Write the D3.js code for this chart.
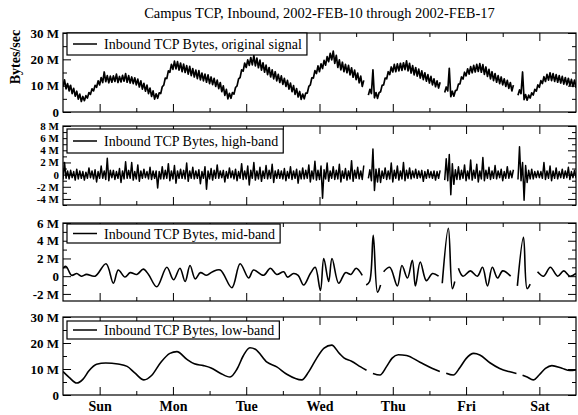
<!DOCTYPE html>
<html>
<head>
<meta charset="utf-8">
<script src="https://cdnjs.cloudflare.com/ajax/libs/d3/7.8.5/d3.min.js"></script>
<style>
body { margin: 0; background: #fff; }
svg { display: block; font-family: "Liberation Serif", "Times New Roman", serif; }
</style>
</head>
<body>
<svg width="578" height="415"></svg>
<script>
var titleText = "Campus TCP, Inbound, 2002-FEB-10 through 2002-FEB-17";
var yLabelText = "Bytes/sec";
var dayNames = ["Sun", "Mon", "Tue", "Wed", "Thu", "Fri", "Sat"];
var legendNames = ["Inbound TCP Bytes, original signal", "Inbound TCP Bytes, high-band",
                   "Inbound TCP Bytes, mid-band", "Inbound TCP Bytes, low-band"];

// tick values (M = million bytes/sec)
var ticks1 = [0, 10, 20, 30], minor1 = [5, 15, 25];
var ticks2 = [-4, -2, 0, 2, 4, 6, 8], minor2 = [-5, -3, -1, 1, 3, 5, 7];
var ticks3 = [-2, 0, 2, 4, 6], minor3 = [-1, 1, 3, 5];
var ticks4 = [0, 10, 20, 30], minor4 = [5, 15, 25];

// noisy signals: hourly min / max, hour 0 = Sun 00:00, null = gap
var originalLo = [9.6, 8.8, 8.0, 7.0, 6.0, 4.9, 4.0, 4.3, 5.3, 6.7,
  8.0, 9.4, 10.3, 11.2, 11.5, 11.1, 11.3, 11.6, 11.2, 11.4,
  11.7, 11.3, 11.0, 10.8, 10.3, 9.5, 8.7, 7.9, 7.0, 5.9,
  4.9, 5.2, 7.0, 10.2, 12.7, 15.1, 16.2, 16.4, 15.9, 15.3,
  15.0, 14.4, 13.8, 13.3, 12.7, 12.2, 11.8, 11.3, 10.8, 10.4,
  9.7, 8.9, 7.7, 6.3, 5.0, 5.2, 6.8, 9.9, 13.1, 15.5,
  16.9, 17.7, 17.9, 17.5, 16.8, 15.9, 15.1, 14.2, 13.3, 12.6,
  11.8, 11.2, 10.5, 9.7, 8.7, 7.7, 6.7, 5.7, 4.8, 5.0,
  7.2, 10.3, 12.9, 14.6, 15.3, 16.5, 17.8, 19.1, 19.8, 18.5,
  16.9, 16.0, 15.3, 14.9, 14.1, 13.2, 12.3, 11.1, 9.7, null,
  6.4, 7.0, 5.4, 5.2, 7.7, 10.3, 12.6, 14.2, 15.2, 15.3,
  15.6, 15.8, 16.1, 15.6, 14.8, 14.1, 13.6, 12.9, 12.3, 11.7,
  11.0, 10.3, 9.6, 9.1, null, 7.4, 8.0, 5.8, 6.0, 8.3,
  10.7, 12.5, 13.7, 14.4, 14.9, 15.2, 15.4, 15.1, 14.3, 13.5,
  12.6, 11.9, 11.3, 10.8, 10.3, 9.7, 9.0, 8.0, null, 6.4,
  7.0, 4.7, 4.5, 5.3, 6.4, 7.9, 9.4, 10.8, 11.6, 12.1,
  11.9, 11.6, 11.3, 11.0, 10.6, 10.3, 10.0, 9.7, 9.4];
var originalHi = [12.2, 10.8, 10.1, 9.0, 7.9, 6.8, 5.9, 6.2, 7.4, 8.8,
  10.1, 11.8, 13.1, 15.2, 13.8, 13.6, 13.7, 14.4, 13.5, 13.9,
  14.6, 13.8, 13.3, 13.0, 12.5, 11.8, 10.9, 10.2, 9.1, 8.0,
  6.9, 7.3, 9.6, 12.9, 15.6, 18.1, 19.3, 19.1, 18.6, 18.2,
  17.6, 17.3, 16.5, 15.9, 15.7, 14.8, 14.4, 14.1, 13.3, 12.8,
  12.1, 11.2, 9.9, 8.6, 7.1, 7.4, 9.3, 12.6, 16.0, 18.6,
  19.8, 20.7, 21.4, 20.5, 19.7, 18.7, 17.8, 16.9, 16.0, 15.3,
  14.3, 13.7, 12.8, 12.0, 11.0, 10.0, 8.9, 7.8, 6.8, 7.2,
  9.7, 13.0, 15.7, 17.5, 18.3, 19.6, 21.0, 22.3, 23.1, 21.5,
  19.8, 18.9, 18.1, 17.7, 16.8, 15.9, 14.8, 13.6, 12.0, null,
  8.6, 16.0, 7.4, 7.3, 10.1, 12.9, 15.3, 17.1, 18.1, 18.3,
  18.5, 18.7, 19.4, 18.5, 17.6, 16.9, 16.3, 15.6, 14.9, 14.2,
  13.5, 12.6, 11.8, 11.3, null, 9.5, 16.6, 7.9, 8.1, 10.6,
  13.3, 15.1, 16.4, 17.2, 17.7, 18.1, 18.4, 18.0, 17.1, 16.2,
  15.3, 14.6, 13.8, 13.3, 12.6, 12.0, 11.2, 10.2, null, 8.4,
  15.2, 6.6, 6.4, 7.3, 8.6, 10.3, 11.9, 13.4, 14.3, 14.9,
  14.6, 14.2, 13.8, 13.5, 13.1, 12.8, 12.4, 12.1, 11.8];

var highLo = [-0.8, -0.6, -0.7, -0.5, -0.9, -0.7, -0.6, -0.9, -0.6, -0.5,
  -0.7, -1.2, -0.6, -0.6, -0.8, -1.0, -0.5, -0.8, -0.6, -1.3,
  -0.7, -0.6, -0.6, -0.9, -0.7, -1.1, -0.6, -0.5, -0.7, -0.8,
  -0.6, -2.2, -0.7, -0.7, -0.6, -1.0, -0.7, -1.4, -0.6, -0.6,
  -0.7, -1.1, -0.6, -0.7, -0.6, -1.5, -0.6, -2.4, -0.7, -0.9,
  -0.6, -0.6, -0.5, -1.2, -0.6, -0.5, -0.7, -1.0, -0.6, -0.8,
  -0.7, -1.7, -0.6, -0.9, -0.7, -1.1, -0.6, -0.7, -0.6, -1.3,
  -0.6, -0.6, -0.7, -1.0, -0.6, -0.8, -0.6, -1.4, -0.7, -0.7,
  -0.6, -1.2, -0.7, -0.9, -0.8, -3.9, -0.7, -1.1, -0.6, -0.8,
  -0.7, -1.2, -0.6, -0.9, -0.7, -1.1, -0.6, -0.7, -0.8, null,
  -0.6, -1.0, -2.6, -1.2, -1.3, -0.6, -0.8, -0.7, -1.2, -0.6,
  -0.9, -0.7, -1.0, -0.6, -0.7, -0.5, -0.6, -0.5, -1.1, -0.6,
  -0.5, -0.6, -0.9, -0.6, null, -0.9, -1.0, -3.3, -1.6, -0.8,
  -0.8, -0.6, -1.0, -0.7, -0.9, -0.6, -1.2, -0.7, -1.0, -0.6,
  -0.8, -0.6, -0.7, -0.5, -1.0, -0.6, -0.6, -0.5, null, -0.8,
  -1.0, -4.2, -1.3, -0.7, -0.7, -0.5, -0.5, -0.6, -0.8, -0.6,
  -1.0, -0.6, -0.7, -0.5, -0.6, -0.5, -0.8, -0.5, -0.5];
var highHi = [2.0, 0.6, 0.7, 0.5, 0.9, 0.6, 0.5, 0.4, 1.1, 0.6,
  0.8, 0.5, 1.4, 0.6, 2.7, 0.7, 0.7, 0.5, 1.0, 0.6,
  2.1, 0.7, 2.0, 0.5, 1.6, 0.6, 0.9, 0.5, 1.2, 0.6,
  0.6, 0.5, 1.3, 0.7, 1.8, 0.6, 1.5, 0.6, 0.9, 0.7,
  1.9, 0.6, 1.2, 0.6, 0.8, 0.5, 1.3, 0.6, 1.0, 0.7,
  1.6, 0.6, 0.7, 0.5, 1.1, 0.6, 0.9, 0.5, 1.8, 0.6,
  1.4, 0.7, 2.0, 0.6, 1.2, 0.6, 1.5, 0.7, 1.7, 0.6,
  0.8, 0.6, 1.0, 0.5, 1.3, 0.6, 0.9, 0.6, 1.1, 0.7,
  1.6, 0.6, 2.2, 0.7, 1.4, 0.8, 1.9, 0.6, 1.3, 0.7,
  1.7, 0.6, 1.0, 0.6, 2.3, 0.7, 1.2, 0.6, 1.5, null,
  0.8, 4.2, 0.9, 1.0, 0.6, 1.1, 0.6, 1.9, 0.7, 1.4,
  0.6, 2.0, 0.7, 1.1, 0.6, 0.9, 0.6, 0.7, 0.5, 0.8,
  0.5, 0.6, 0.5, 0.7, null, 2.6, 3.3, 1.8, 0.8, 1.3,
  0.7, 1.6, 0.6, 2.4, 0.7, 1.7, 0.6, 2.8, 0.7, 1.2,
  0.6, 1.5, 0.6, 0.9, 0.5, 1.3, 0.6, 0.8, null, 4.6,
  2.0, 1.5, 0.7, 0.9, 0.5, 0.6, 0.5, 2.0, 0.6, 1.4,
  0.6, 1.1, 0.5, 0.9, 0.6, 1.2, 0.5, 0.7, 0.5];

// smooth bands, read at turning points (hour, value)
var midHours = [0, 1, 2.8, 4.5, 6, 7.7, 10.5, 14.1, 16.5, 18.1, 20.3, 22, 24.2, 26.3, 28, 30.7,
  34, 36.2, 38.3, 40, 41.6, 43.3, 45, 47, 49, 51.5, 55.3, 58, 60.8, 62.4, 65.7, 67.9, 70, 72.3,
  73.5, 75.5, 77, 78.8, 81, 82.6, 84.3, 85.4, 87, 88.1, 90.3, 92.5, 94.3, 96, 98, 98.6, 99.3,
  100.4, 101.6, 103, 104, 104.5, 105, 107, 109.5, 111, 112.8, 114.4, 115.4, 117, 119, 121, 123,
  123.6, 124.2, 126.2, 127.5, 128.3, 128.9, 129.5, 131, 133.4, 135.7, 137.4, 139, 140.6, 142.3,
  144, 146.6, 147.5, 148.8, 150.8, 152, 153, 154.2, 155.4, 157.4, 159.6, 162, 164, 166, 168];
var midValues = [0.9, 1.1, 0.1, 0.3, 0.0, 0.2, 0.0, 1.4, -0.8, 0.7, -0.1, 0.4, 0.2, 0.8, 0.2, -1.2,
  1.0, -0.4, 0.9, -0.6, 1.2, -0.3, 0.4, 0.1, 0.5, 0.7, -1.3, 1.4, -0.2, 0.7, 0.1, 0.9, 0.2, 0.5,
  -0.1, 0.3, 0.1, -1.0, 0.3, 1.0, -1.6, 2.0, -0.6, 2.0, -0.8, 0.4, 0.2, 0.9, 0.1, null, -1.0,
  -0.6, 4.6, -1.8, -1.0, null, 0.5, 1.0, -1.1, 1.2, -0.2, 1.8, -1.1, 1.6, -0.5, 0.3, 0.0,
  null, -0.8, 5.4, -1.4, -0.6, null, 0.9, 0.0, 0.6, 0.0, 1.0, -1.1, 1.0, -0.2,
  0.6, 0.0, null, -1.1, 4.4, -1.4, -0.9, null, 0.5, 0.0, 1.0, 0.0, 0.6, 0.0, 0.3];

var lowHours = [0, 2, 4.5, 6.5, 8.5, 11, 14, 18, 21, 23.5, 26.5, 29, 32, 35, 37.3, 40.5, 43, 46,
  48.5, 51.5, 54.7, 57, 59, 61.2, 63, 66.8, 70, 73.3, 78.2, 80.5, 83, 85.5, 88, 90.5, 92, 94.5,
  97.5, 99.4, 100.5, 101.5, 103.8, 106, 107.8, 109.8, 112.5, 116.9, 121, 123.4, 124.5, 125.5,
  127.8, 130, 132, 134.5, 136.5, 139.8, 143, 146, 148.5, 149.3, 150.5, 152, 154, 156, 158,
  160.1, 163.4, 166, 168];
var lowValues = [9.0, 6.8, 4.6, 6.0, 9.3, 11.8, 12.3, 11.9, 11.0, 8.5, 5.8, 7.5, 12.5, 16.0, 16.7,
  13.8, 12.0, 11.3, 10.4, 8.4, 6.9, 10.0, 15.0, 18.2, 17.6, 12.6, 10.8, 8.0, 5.8, 9.0, 14.0, 18.0,
  19.2, 16.0, 14.3, 13.0, 10.8, 9.5, null, 8.3, 7.7, 11.0, 14.2, 15.5, 15.2, 12.6, 10.2, 9.0,
  null, 8.4, 7.7, 10.6, 14.0, 16.0, 15.4, 12.4, 10.2, 9.0, 8.3, null, 7.6, 6.9, 5.8, 7.8, 10.2,
  11.3, 10.3, 9.4, 9.6];

// min at the hour, max half an hour on: the trace fills its band like the original plot
function minMax(lo, hi) {
  var pts = [];
  lo.forEach(function (v, h) {
    pts.push({ h: h, v: v });
    pts.push({ h: h + 0.5, v: hi[h] });
  });
  return pts;
}

function pairs(hs, vs) {
  return hs.map(function (h, i) { return { h: h, v: vs[i] }; });
}

var left = 63, right = 576;
var panels = [
  { top: 33, bottom: 112, domain: [0, 30], major: ticks1, minor: minor1, pts: minMax(originalLo, originalHi),
    curve: d3.curveLinear, width: 1.7, labelSize: 13, boxY: 0, boxH: 22 },
  { top: 126, bottom: 205, domain: [-5, 8], major: ticks2, minor: minor2, pts: minMax(highLo, highHi),
    curve: d3.curveLinear, width: 1.5, labelSize: 11, boxY: 3, boxH: 24 },
  { top: 223, bottom: 301, domain: [-2.8, 6], major: ticks3, minor: minor3, pts: pairs(midHours, midValues),
    curve: d3.curveCatmullRom, width: 1.6, labelSize: 13, boxY: 1, boxH: 19 },
  { top: 317, bottom: 395, domain: [0, 30], major: ticks4, minor: minor4, pts: pairs(lowHours, lowValues),
    curve: d3.curveMonotoneX, width: 1.6, labelSize: 13, boxY: 4, boxH: 18 }
];

var svg = d3.select("svg");
svg.append("rect").attr("width", 578).attr("height", 415).attr("fill", "#fff");

var x = d3.scaleLinear().domain([0, 168]).range([left, right]);
var noonTicks = dayNames.map(function (d, i) { return 12 + 24 * i; });
var midnightTicks = [24, 48, 72, 96, 120, 144];

function fmt(v) { return v === 0 ? "0" : v + " M"; }

function noDomain(g) { g.select(".domain").remove(); }

// bare tick marks, pointing into the plot
function marks(g, axis, vals, size, tx, ty) {
  g.append("g")
    .attr("transform", "translate(" + tx + "," + ty + ")")
    .call(axis.tickValues(vals).tickSize(size).tickFormat(""))
    .call(noDomain)
    .selectAll("line").attr("stroke", "#000").attr("stroke-width", 1);
}

panels.forEach(function (p, pi) {
  var y = d3.scaleLinear().domain(p.domain).range([p.bottom, p.top]);
  var g = svg.append("g");

  g.append("clipPath").attr("id", "clip" + pi)
    .append("rect").attr("x", left).attr("y", p.top)
    .attr("width", right - left).attr("height", p.bottom - p.top);

  var line = d3.line()
    .defined(function (d) { return d.v != null; })
    .x(function (d) { return x(d.h); })
    .y(function (d) { return y(d.v); })
    .curve(p.curve);

  g.append("path")
    .attr("clip-path", "url(#clip" + pi + ")")
    .attr("d", line(p.pts))
    .attr("fill", "none")
    .attr("stroke", "#000")
    .attr("stroke-width", p.width)
    .attr("stroke-linejoin", "round");

  // x ticks, top and bottom edges
  marks(g, d3.axisTop(x), noonTicks, 8, 0, p.bottom);
  marks(g, d3.axisTop(x), midnightTicks, 4, 0, p.bottom);
  marks(g, d3.axisBottom(x), noonTicks, 8, 0, p.top);
  marks(g, d3.axisBottom(x), midnightTicks, 4, 0, p.top);
  // y ticks, left and right edges
  marks(g, d3.axisRight(y), p.major, 8, left, 0);
  marks(g, d3.axisRight(y), p.minor, 4, left, 0);
  marks(g, d3.axisLeft(y), p.major, 8, right, 0);
  marks(g, d3.axisLeft(y), p.minor, 4, right, 0);

  g.append("g")
    .attr("transform", "translate(" + (left - 1) + ",0)")
    .call(d3.axisLeft(y).tickValues(p.major).tickSize(0).tickPadding(3).tickFormat(fmt))
    .call(noDomain)
    .attr("font-family", null).attr("font-size", p.labelSize).attr("font-weight", "bold");

  g.append("rect")
    .attr("x", left).attr("y", p.top)
    .attr("width", right - left).attr("height", p.bottom - p.top)
    .attr("fill", "none").attr("stroke", "#000").attr("stroke-width", 1.2);

  // legend box
  var lg = g.append("g");
  var by = p.top + p.boxY;
  var box = lg.append("rect")
    .attr("x", 67).attr("y", by).attr("height", p.boxH)
    .attr("fill", "#fff").attr("stroke", "#000").attr("stroke-width", 1.2);
  lg.append("line")
    .attr("x1", 73).attr("x2", 97)
    .attr("y1", by + p.boxH / 2).attr("y2", by + p.boxH / 2)
    .attr("stroke", "#000").attr("stroke-width", 1.5);
  var txt = lg.append("text")
    .attr("x", 104).attr("y", by + p.boxH / 2 + 5)
    .attr("font-size", 14)
    .text(legendNames[pi]);
  box.attr("width", txt.node().getComputedTextLength() + 42);

  if (pi === panels.length - 1) {
    g.append("g")
      .attr("transform", "translate(0," + p.bottom + ")")
      .call(d3.axisBottom(x).tickValues(noonTicks).tickSize(0).tickPadding(6)
        .tickFormat(function (d, i) { return dayNames[i]; }))
      .call(noDomain)
      .attr("font-family", null).attr("font-size", 14).attr("font-weight", "bold");
  }
});

svg.append("text")
  .attr("x", (left + right) / 2).attr("y", 18)
  .attr("text-anchor", "middle")
  .attr("font-size", 14.5)
  .text(titleText);

svg.append("text")
  .attr("transform", "translate(20,57) rotate(-90)")
  .attr("text-anchor", "middle")
  .attr("font-size", 14).attr("font-weight", "bold")
  .text(yLabelText);
</script>
</body>
</html>
